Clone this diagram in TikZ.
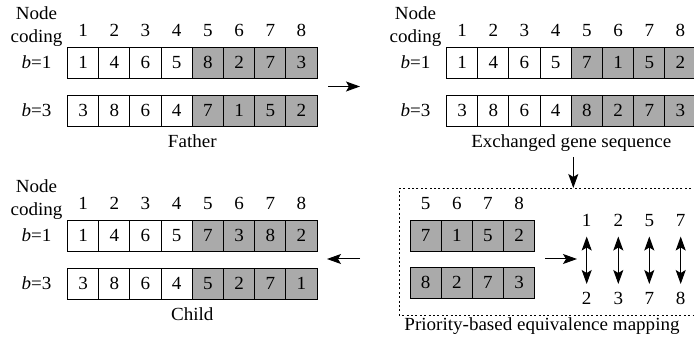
\documentclass[tikz,border=0pt]{standalone}
\usepackage{fontspec}
\setmainfont{Liberation Serif}[FakeStretch=1.03]
\usetikzlibrary{arrows.meta,calc}
\definecolor{cellgray}{RGB}{170,170,170}
\tikzset{
  txt/.style={font=\fontsize{18.5}{18.5}\selectfont, inner sep=0pt},
  cell/.style={txt, draw, line width=0.9pt, minimum width=31.2pt, minimum height=31pt,
    text height=12pt, text depth=0pt, fill=white},
  graycell/.style={cell, fill=cellgray},
  tip/.tip={Stealth[length=14pt,width=10pt,inset=3pt]},
  arr/.style={line width=1pt, -tip},
  darr/.style={line width=1pt, tip-tip},
  dashbox/.style={line width=0.9pt, dash pattern=on 2pt off 2.4pt},
}
\newcommand\mypanel[6]{% prefix, X, Y, row1 list, row2 list, label
  \node[txt, anchor=base] (#1node) at (#2-31, #3-27) {Node};
  \node[txt, anchor=base] (#1coding) at (#2-31, #3-4) {coding};
  \foreach \v [count=\i] in {1,...,8} {
    \node[txt, anchor=base] (#1col\i) at (#2+15.6+31.2*\i-31.2, #3-10) {\v};
  }
  \foreach \v [count=\i] in {#4} {
    \ifnum\i>4 \def\sty{graycell}\else\def\sty{cell}\fi
    \node[\sty] (#1a\i) at (#2+15.6+31.2*\i-31.2, #3+15.5) {\v};
  }
  \foreach \v [count=\i] in {#5} {
    \ifnum\i>4 \def\sty{graycell}\else\def\sty{cell}\fi
    \node[\sty] (#1b\i) at (#2+15.6+31.2*\i-31.2, #3+63.5) {\v};
  }
  \node[txt] (#1lb1) at (#2-31, #3+15.5) {\textit{b}=1};
  \node[txt] (#1lb3) at (#2-31, #3+63.5) {\textit{b}=3};
  \node[txt, anchor=base] (#1label) at (#2+124.8, #3+101) {#6};
}
\begin{document}
\begin{tikzpicture}[x=1pt, y=-1pt]
\useasboundingbox (0,0) rectangle (694,347);

\mypanel{f}{67.5}{47}{1,4,6,5,8,2,7,3}{3,8,6,4,7,1,5,2}{Father}
\mypanel{e}{446.5}{47}{1,4,6,5,7,1,5,2}{3,8,6,4,8,2,7,3}{Exchanged gene sequence}
\mypanel{c}{67.5}{220}{1,4,6,5,7,3,8,2}{3,8,6,4,5,2,7,1}{Child}

% dashed box (cut at the right edge)
\draw[dashbox] (700,188) -- (399,188) -- (399,315) -- (700,315);
\node[txt, anchor=base] (plabel) at (542,331) {Priority-based equivalence mapping};

% inner cells
\foreach \v [count=\i] in {5,6,7,8} {
  \node[txt, anchor=base] (pcol\i) at (410+15.6+31.2*\i-31.2, 210) {\v};
}
\foreach \v [count=\i] in {7,1,5,2} {
  \node[graycell] (pa\i) at (410+15.6+31.2*\i-31.2, 235.5) {\v};
}
\foreach \v [count=\i] in {8,2,7,3} {
  \node[graycell] (pb\i) at (410+15.6+31.2*\i-31.2, 283) {\v};
}

% mapping pairs
\foreach \t/\b/\x [count=\i] in {1/2/586.7, 2/3/618.3, 5/7/649.3, 7/8/680.7} {
  \node[txt, anchor=base] (mt\i) at (\x, 226.5) {\t};
  \node[txt, anchor=base] (mb\i) at (\x, 305) {\b};
  \coordinate (mtop\i) at (\x, 236.5);
  \coordinate (mbot\i) at (\x, 284);
  \draw[darr] (mtop\i) -- (mbot\i);
}

% connectors
\coordinate (a1s) at (328,86.5);
\coordinate (a1e) at (360,86.5);
\draw[arr] (a1s) -- (a1e);

\coordinate (a2s) at (573.3,157);
\coordinate (a2e) at (573.3,188);
\draw[arr] (a2s) -- (a2e);

\coordinate (a3s) at (545,259);
\coordinate (a3e) at (577,259);
\draw[arr] (a3s) -- (a3e);

\coordinate (a4s) at (360,259);
\coordinate (a4e) at (327,259);
\draw[arr] (a4s) -- (a4e);
\end{tikzpicture}
\end{document}
